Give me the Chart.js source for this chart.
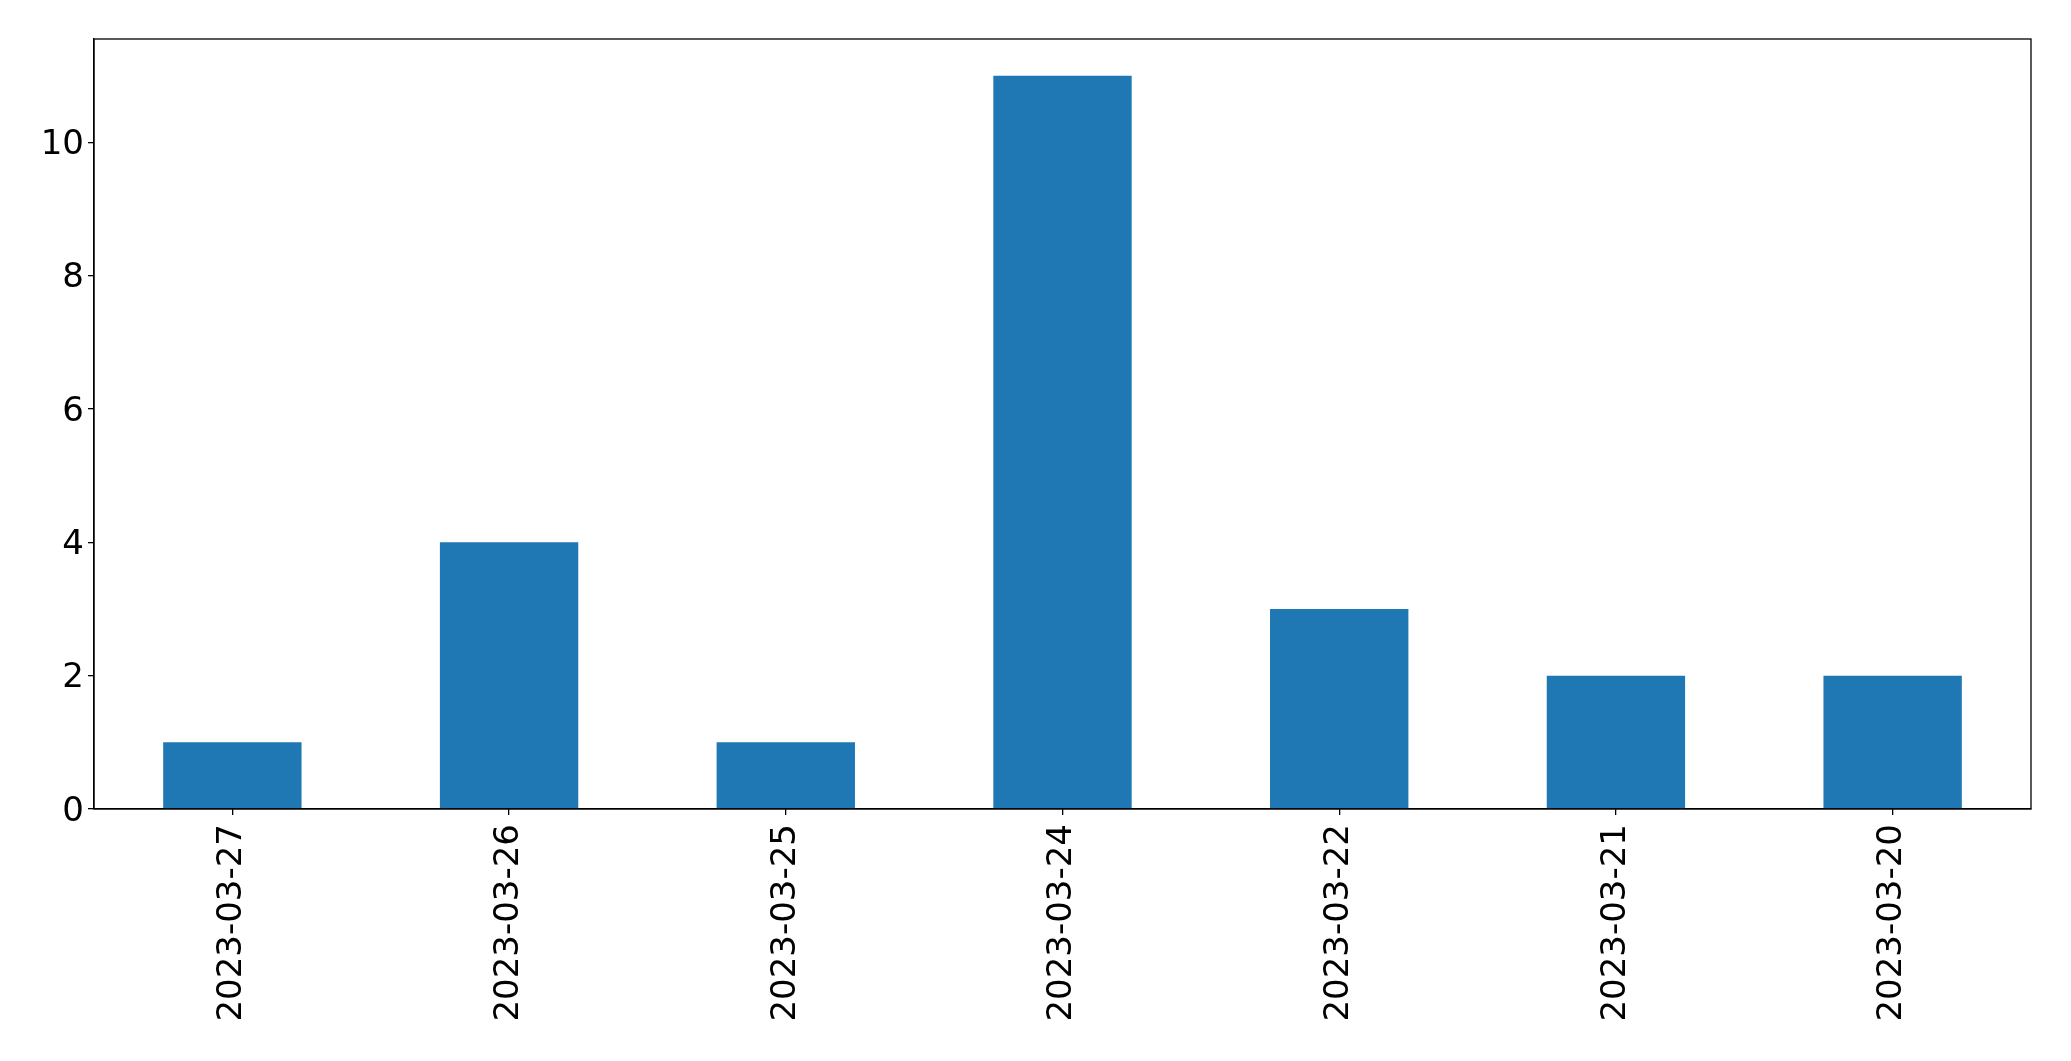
<!DOCTYPE html>
<html>
<head>
<meta charset="utf-8">
<script src="https://cdn.jsdelivr.net/npm/chart.js@4/dist/chart.umd.min.js"></script>
<style>
html,body{margin:0;padding:0;background:#fff;}
#wrap{width:2071px;height:1061px;}
</style>
</head>
<body>
<div id="wrap"><canvas id="c" width="2071" height="1061"></canvas></div>
<script>
const categories = ["2023-03-27","2023-03-26","2023-03-25","2023-03-24","2023-03-22","2023-03-21","2023-03-20"];
const values = [1, 4, 1, 11, 3, 2, 2];
const yTicks = [0, 2, 4, 6, 8, 10];
const barColor = "#1f77b4";

const frame = {
  id: "frame",
  afterDraw(chart) {
    const a = chart.chartArea, ctx = chart.ctx;
    ctx.save();
    ctx.strokeStyle = "#000";
    ctx.lineWidth = 1.3;
    ctx.strokeRect(a.left, a.top, a.right - a.left, a.bottom - a.top);
    ctx.restore();
  }
};

new Chart(document.getElementById("c"), {
  type: "bar",
  data: {
    labels: categories,
    datasets: [{ data: values, backgroundColor: barColor, borderWidth: 0,
      barPercentage: 0.5, categoryPercentage: 1.0 }]
  },
  options: {
    responsive: false,
    animation: false,
    devicePixelRatio: 1,
    layout: { padding: { top: 39, right: 40, left: 0, bottom: 0 } },
    plugins: { legend: { display: false }, tooltip: { enabled: false } },
    scales: {
      x: {
        grid: { offset: false, drawOnChartArea: false, drawTicks: true, tickLength: 6, color: "#000", lineWidth: 1.3 },
        border: { display: true, color: "#000", width: 1.3 },
        ticks: { color: "#000", maxRotation: 90, minRotation: 90, padding: 9,
          font: { family: "DejaVu Sans", size: 34 } },
        afterFit(s) { s.height = 252; }
      },
      y: {
        min: 0, max: 11.55,
        grid: { drawOnChartArea: false, drawTicks: true, tickLength: 6, color: "#000", lineWidth: 1.3 },
        border: { display: true, color: "#000", width: 1.3 },
        afterBuildTicks(s) { s.ticks = yTicks.map(v => ({ value: v })); },
        ticks: { color: "#000", padding: 4, labelOffset: 3, font: { family: "DejaVu Sans", size: 34 } },
        afterFit(s) { s.width = 94; }
      }
    }
  },
  plugins: [frame]
});
</script>
</body>
</html>
